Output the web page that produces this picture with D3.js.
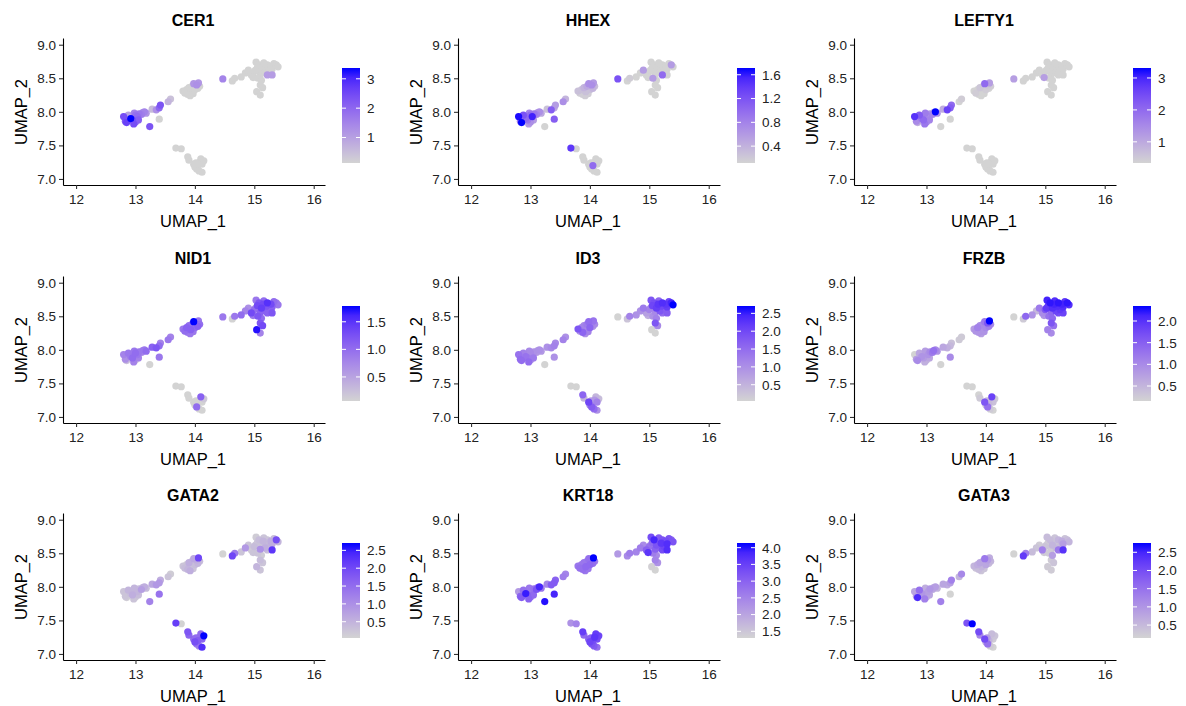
<!DOCTYPE html>
<html>
<head>
<meta charset="utf-8">
<script src="https://cdn.jsdelivr.net/npm/d3@7"></script>
<style>
  body { margin: 0; background: white; }
  text { font-family: "Liberation Sans", Arial, sans-serif; }
</style>
</head>
<body>
<div id="chart"></div>
<script>
// cell embedding (same cells in every panel)
var umap1 = [12.80,12.83,12.85,12.88,12.92,12.95,12.97,13.00,13.00,13.03,13.06,13.10,13.12,13.15,13.18,13.24,13.28,13.35,13.40,13.42,13.40,13.55,13.59,12.98,13.05,
  13.80,13.83,13.86,13.88,13.90,13.93,13.95,13.97,13.98,14.00,14.03,14.06,14.08,14.05,13.92,
  14.47,14.63,14.67,14.78,
  14.85,14.90,14.95,14.98,15.00,15.03,15.05,15.08,15.10,15.12,15.15,15.18,15.20,15.22,15.25,15.28,15.30,15.33,15.37,15.40,15.06,15.12,15.10,15.14,15.04,15.10,15.22,15.30,15.02,15.16,
  13.68,13.77,13.88,13.90,13.98,14.00,14.03,14.05,14.08,14.10,14.12,14.15,14.07,14.12,14.02];
var umap2 = [7.93,7.86,7.84,7.95,7.90,7.88,7.82,7.85,7.95,7.93,7.97,7.96,7.99,8.00,7.98,7.78,8.04,8.03,7.89,8.10,8.06,8.15,8.19,7.98,7.88,
  8.31,8.28,8.33,8.26,8.36,8.30,8.38,8.27,8.42,8.33,8.40,8.43,8.38,8.35,8.24,
  8.49,8.46,8.50,8.52,
  8.58,8.62,8.55,8.51,8.60,8.74,8.66,8.70,8.56,8.62,8.68,8.58,8.65,8.70,8.60,8.68,8.64,8.72,8.70,8.67,8.50,8.47,8.40,8.36,8.30,8.25,8.55,8.55,8.62,8.73,
  7.46,7.45,7.33,7.28,7.22,7.18,7.15,7.20,7.25,7.30,7.22,7.27,7.12,7.10,7.24];

var genes = ["CER1", "HHEX", "LEFTY1", "NID1", "ID3", "FRZB", "GATA2", "KRT18", "GATA3"];

var cer1 = [2.4,2.2,2.6,1.0,3.3,2.3,2.4,2.0,1.8,1.9,1.7,1.6,1.4,1.5,1.2,2.3,0.6,1.3,0.2,2.3,2.0,0.7,0.5,1.5,2.1,
  0.2,0.2,0.2,0.2,0.2,0.2,0.2,0.2,1.2,0.2,1.3,1.2,0.2,0.2,0.2,
  1.5,0.2,0.2,0.2,
  0.2,0.2,0.2,0.2,0.2,0.2,0.2,0.2,0.2,0.2,0.2,0.2,0.2,0.2,0.2,0.2,0.2,0.2,0.2,0.2,0.2,0.2,0.2,0.2,0.2,0.2,1.1,1.1,0.2,0.2,
  0.2,0.2,0.2,0.2,0.2,0.2,0.2,0.2,0.2,0.2,0.2,0.2,0.2,0.2,0.2];
var hhex = [1.65,0.9,1.68,1.2,1.0,0.9,0.6,0.7,1.0,1.55,0.9,0.8,0.6,0.7,0.5,0.15,0.3,1.1,1.1,0.6,0.5,0.7,0.4,0.8,0.6,
  0.3,0.2,0.3,0.2,0.4,0.3,0.5,0.2,0.7,0.3,0.7,0.6,0.3,0.4,0.2,
  1.2,0.15,0.2,0.15,
  0.15,0.6,0.15,0.15,0.15,0.15,0.15,0.15,0.15,0.15,0.15,0.15,0.15,0.15,0.15,0.15,0.15,0.15,0.6,0.15,0.6,0.15,0.15,0.15,0.15,0.15,1.0,0.15,0.15,0.15,
  1.4,0.15,0.15,0.15,0.15,0.15,0.15,1.0,0.15,0.15,0.15,0.15,0.15,0.15,0.15];
var lefty1 = [2.8,1.5,1.0,2.2,1.8,2.0,1.8,1.5,1.2,1.4,1.3,1.6,1.2,3.25,1.4,0.4,1.0,2.6,0.4,2.0,2.2,0.4,0.5,1.7,1.6,
  0.4,0.5,0.4,0.4,0.6,0.4,0.5,0.4,2.0,0.5,0.6,1.2,0.5,0.4,0.4,
  1.2,0.4,0.4,0.4,
  0.4,0.4,0.4,1.2,0.4,0.4,0.4,0.4,0.4,0.4,0.4,0.4,0.4,0.4,0.4,0.4,0.4,0.4,0.4,0.4,0.4,0.4,0.4,0.4,0.4,0.4,0.4,0.4,0.4,0.4,
  0.4,0.4,0.4,0.4,0.4,0.4,0.4,0.4,0.4,0.4,0.4,0.4,0.4,0.4,0.4];
var nid1 = [0.8,0.7,0.3,0.9,0.9,1.0,0.8,0.2,1.0,0.9,0.9,0.8,0.8,0.9,1.0,0.1,1.1,1.2,0.9,0.8,1.0,0.9,0.8,0.9,0.8,
  0.9,1.0,1.1,0.9,1.0,1.1,1.0,0.9,1.75,1.0,0.9,0.9,1.0,1.1,0.9,
  0.9,0.1,0.9,1.0,
  0.8,0.7,1.3,0.9,1.0,0.9,1.3,1.2,1.1,1.4,1.3,1.1,1.2,1.5,1.0,1.3,1.1,1.0,0.9,0.9,1.2,1.0,1.2,1.3,1.7,0.8,1.1,1.2,0.3,1.0,
  0.1,0.1,0.1,0.1,0.1,0.1,1.0,0.1,0.1,1.1,0.1,0.2,0.1,0.1,0.1];
var id3 = [1.4,1.5,1.5,1.2,1.4,1.3,1.5,1.0,1.1,0.9,1.0,0.9,0.8,1.0,0.9,0.1,1.0,1.1,1.0,1.1,1.2,1.2,1.0,1.1,1.3,
  1.8,1.0,1.2,1.6,1.1,1.0,1.3,1.2,1.5,1.6,1.2,1.4,1.1,1.0,1.0,
  0.1,0.3,1.2,1.0,
  1.0,1.3,0.8,0.6,1.2,1.8,2.0,1.9,1.1,2.1,2.2,1.8,2.0,2.3,1.6,2.2,2.1,2.0,2.4,2.65,1.0,1.2,1.8,1.1,0.1,0.1,1.5,1.7,0.8,1.6,
  0.1,0.1,1.6,0.5,2.0,1.2,1.7,0.6,0.9,0.5,1.2,0.4,1.5,1.0,0.8];
var frzb = [0.2,0.8,1.0,0.7,0.9,0.8,0.6,0.5,0.7,0.9,1.0,1.2,1.3,1.0,0.9,0.2,0.7,0.6,1.0,0.4,0.5,0.3,0.3,0.8,0.7,
  0.8,0.9,1.1,0.9,1.0,0.8,1.0,0.9,1.2,1.0,1.6,2.3,1.0,1.1,0.8,
  0.2,0.3,1.4,0.9,
  0.5,1.2,1.0,0.9,1.6,2.1,1.9,2.2,1.4,2.0,2.1,1.8,2.0,2.2,1.9,2.1,2.0,1.9,2.2,2.0,1.3,1.4,1.6,1.3,1.1,1.0,1.7,1.8,1.9,2.0,
  0.2,0.2,0.2,0.3,1.6,0.4,1.3,0.5,0.3,1.8,0.4,0.3,0.3,0.2,0.5];
var gata2 = [0.3,0.3,0.2,0.5,0.4,0.6,0.3,0.2,0.4,0.5,0.4,0.8,0.5,0.6,0.4,1.2,0.7,0.9,1.4,0.6,0.9,0.3,0.2,0.5,0.4,
  0.3,0.4,0.2,0.5,0.6,0.3,0.4,0.3,0.7,0.4,0.6,2.0,0.4,0.5,0.6,
  0.1,2.0,1.3,0.3,
  0.9,0.3,0.2,0.3,0.4,0.2,0.3,0.4,1.0,0.3,0.5,0.6,0.4,0.3,0.5,0.6,0.6,0.4,1.9,0.5,0.3,0.2,0.4,0.3,0.5,0.3,0.4,2.2,0.3,0.3,
  2.1,0.1,1.8,1.6,1.5,1.9,1.4,1.7,1.3,1.5,1.6,2.65,1.2,2.3,1.5];
var krt18 = [2.2,3.0,3.1,2.8,3.9,3.0,3.0,2.8,2.6,2.7,2.8,3.2,2.9,3.8,2.7,4.0,2.5,3.1,3.8,3.0,3.1,2.6,2.5,2.7,2.9,
  2.7,2.8,2.6,2.8,2.7,2.9,2.6,2.7,2.8,2.9,2.7,4.08,2.6,2.8,2.7,
  2.2,2.4,2.6,2.5,
  2.6,2.4,3.0,3.6,2.8,3.3,2.9,3.8,3.0,3.2,3.1,3.0,3.6,3.2,3.4,3.3,3.7,3.2,3.0,3.2,2.6,2.4,2.5,2.3,1.4,1.36,3.3,3.7,2.0,3.1,
  2.3,2.5,3.5,2.9,3.0,3.4,3.2,3.3,3.6,3.5,3.3,3.4,3.1,2.8,3.0];
var gata3 = [0.8,0.9,2.4,1.5,1.0,0.9,1.3,0.6,0.7,0.9,1.0,0.8,0.7,0.9,0.6,1.3,0.8,0.7,0.2,1.3,0.9,0.6,1.2,0.7,0.8,
  0.6,0.4,0.7,0.5,0.8,0.6,0.7,0.4,1.4,0.8,0.9,0.7,0.6,0.5,0.4,
  0.2,2.2,1.3,0.5,
  0.4,0.3,1.3,0.3,0.4,0.5,0.3,0.5,0.3,0.6,0.4,0.5,0.3,0.6,0.5,0.7,0.9,0.4,0.5,0.6,0.3,0.9,0.3,0.4,0.3,0.3,1.4,2.3,0.3,0.4,
  1.9,2.7,2.0,1.2,2.0,0.8,1.5,0.6,0.4,0.5,0.3,0.4,0.3,0.2,0.9];

var exprs = [cer1, hhex, lefty1, nid1, id3, frzb, gata2, krt18, gata3];

// colour bar tick labels
var legendTicks = [
  [1, 2, 3],
  [0.4, 0.8, 1.2, 1.6],
  [1, 2, 3],
  [0.5, 1.0, 1.5],
  [0.5, 1.0, 1.5, 2.0, 2.5],
  [0.5, 1.0, 1.5, 2.0],
  [0.5, 1.0, 1.5, 2.0, 2.5],
  [1.5, 2.0, 2.5, 3.0, 3.5, 4.0],
  [0.5, 1.0, 1.5, 2.0, 2.5]
];

var xTicks = [12, 13, 14, 15, 16];
var yTicks = [7.0, 7.5, 8.0, 8.5, 9.0];

var W = 1186, H = 706;
var colX = [0, 395, 791], rowY = [0, 238, 475];

var svg = d3.select("#chart").append("svg")
  .attr("width", W).attr("height", H)
  .style("background", "white");

var defs = svg.append("defs");
var ramp = d3.interpolateLab("lightgrey", "blue");

// scales shared by all panels (panel local coords)
var x = d3.scaleLinear().domain([11.78, 16.19]).range([63, 325]);
var y = d3.scaleLinear().domain([6.91, 9.10]).range([185, 38]);

genes.forEach(function (gene, i) {
  var vals = exprs[i];
  var g = svg.append("g")
    .attr("transform", "translate(" + colX[i % 3] + "," + rowY[Math.floor(i / 3)] + ")");

  var ext = d3.extent(vals);
  var col = d3.scaleSequential(ramp).domain(ext);

  // title
  g.append("text")
    .attr("x", 193).attr("y", 26)
    .attr("text-anchor", "middle")
    .style("font-size", "16px").style("font-weight", "bold")
    .text(gene);

  // points, low values underneath
  var cells = d3.range(vals.length).sort(function (a, b) { return vals[a] - vals[b]; });
  g.append("g").selectAll("circle")
    .data(cells)
    .enter().append("circle")
    .attr("cx", function (d) { return x(umap1[d]); })
    .attr("cy", function (d) { return y(umap2[d]); })
    .attr("r", 3.6)
    .attr("fill", function (d) { return col(vals[d]); });

  // axes
  var xa = g.append("g").attr("transform", "translate(0,185)")
    .call(d3.axisBottom(x).tickValues(xTicks).tickSize(4).tickSizeOuter(0).tickFormat(d3.format("d")));
  var ya = g.append("g").attr("transform", "translate(63,0)")
    .call(d3.axisLeft(y).tickValues(yTicks).tickSize(4).tickSizeOuter(0).tickFormat(d3.format(".1f")));
  [xa, ya].forEach(function (a) {
    a.select(".domain").attr("stroke", "#000").attr("stroke-width", 1.1);
    a.selectAll(".tick line").attr("stroke", "#333").attr("stroke-width", 1.1);
    a.selectAll(".tick text").style("font-size", "13.5px").attr("fill", "#222")
      .style("font-family", "'Liberation Sans', Arial, sans-serif");
  });
  xa.selectAll(".tick text").attr("dy", "0.9em");

  // axis titles
  g.append("text")
    .attr("x", 193).attr("y", 227)
    .attr("text-anchor", "middle")
    .style("font-size", "16.5px")
    .text("UMAP_1");
  g.append("text")
    .attr("transform", "translate(27,112) rotate(-90)")
    .attr("text-anchor", "middle")
    .style("font-size", "16.5px")
    .text("UMAP_2");

  // colour bar
  var gid = "grad" + i;
  var grad = defs.append("linearGradient").attr("id", gid)
    .attr("x1", 0).attr("y1", 1).attr("x2", 0).attr("y2", 0);
  d3.range(0, 1.0001, 0.1).forEach(function (t) {
    grad.append("stop").attr("offset", t).attr("stop-color", ramp(t));
  });
  var lg = g.append("g");
  var bx = 342, bw = 18, by0 = 163, by1 = 68;
  lg.append("rect")
    .attr("x", bx).attr("y", by1).attr("width", bw).attr("height", by0 - by1)
    .attr("fill", "url(#" + gid + ")");
  var ls = d3.scaleLinear().domain(ext).range([by0 - 2, by1 + 2]);
  var allInt = legendTicks[i].every(function (v) { return v % 1 === 0; });
  var fmt = allInt ? d3.format("d") : d3.format(".1f");
  legendTicks[i].forEach(function (v) {
    var ty = ls(v);
    lg.append("line").attr("x1", bx).attr("x2", bx + 4).attr("y1", ty).attr("y2", ty)
      .attr("stroke", "white").attr("stroke-width", 1);
    lg.append("line").attr("x1", bx + bw - 4).attr("x2", bx + bw).attr("y1", ty).attr("y2", ty)
      .attr("stroke", "white").attr("stroke-width", 1);
    lg.append("text").attr("x", bx + bw + 7).attr("y", ty).attr("dy", "0.36em")
      .style("font-size", "13.5px").attr("fill", "#222")
      .text(fmt(v));
  });
});
</script>
</body>
</html>
